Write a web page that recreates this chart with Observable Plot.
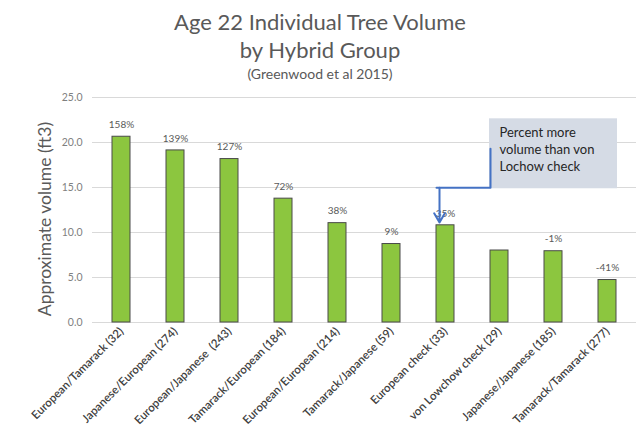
<!DOCTYPE html>
<html>
<head>
<meta charset="utf-8">
<script src="https://cdn.jsdelivr.net/npm/d3@7"></script>
<script src="https://cdn.jsdelivr.net/npm/@observablehq/plot@0.6"></script>
<style>
  body { margin: 0; background: #fff; font-family: Lato, "Open Sans", sans-serif; }
  #t1 { font-size: 22px; line-height: 28px; color: #595959; text-align: center; padding-top: 8px; }
  #t2 { font-size: 14px; line-height: 20px; color: #595959; text-align: center; }
  svg { display: block; }
</style>
</head>
<body>
<div id="t1">Age 22 Individual Tree Volume<br>by Hybrid Group</div>
<div id="t2">(Greenwood et al 2015)</div>
<div id="chart"></div>
<script>
const categories = [
  "European/Tamarack (32)",
  "Japanese/European (274)",
  "European/Japanese  (243)",
  "Tamarack/European (184)",
  "European/European (214)",
  "Tamarack/Japanese (59)",
  "European check (33)",
  "von Lowchow check (29)",
  "Japanese/Japanese (185)",
  "Tamarack/Tamarack (277)"
];
const volumes = [20.64, 19.12, 18.16, 13.76, 11.04, 8.72, 10.8, 8.0, 7.92, 4.72];
const percentLabels = ["158%", "139%", "127%", "72%", "38%", "9%", "35%", "", "-1%", "-41%"];
const yTicks = [0, 5, 10, 15, 20, 25];
const yLabel = "Approximate volume (ft3)";
const noteLines = "Percent more\nvolume than von\nLochow check";
const noteBox = {x: "Japanese/Japanese (185)", y1: 14.86, y2: 22.63};
const elbow = [
  {x: "von Lowchow check (29)", y: 19.3},
  {x: "von Lowchow check (29)", y: 14.97},
  {x: "European check (33)", y: 14.97}
];
const arrowSeg = {x: "European check (33)", y1: 14.97, y2: 11.1};

const data = categories.map((c, i) => ({cat: c, v: volumes[i], pct: percentLabels[i]}));

const chart = Plot.plot({
  width: 640,
  height: 357,
  marginTop: 13,
  marginBottom: 119,
  marginLeft: 92,
  marginRight: 4,
  style: {fontFamily: "Lato, 'Open Sans', sans-serif", background: "#fff"},
  x: {domain: categories, paddingInner: 0.67, paddingOuter: 0.335, label: null},
  y: {domain: [0, 25], label: null},
  marks: [
    Plot.ruleY(yTicks, {stroke: "#d9d9d9", strokeWidth: 1}),
    Plot.axisY({ticks: yTicks, tickSize: 0, tickPadding: 10, tickFormat: d => d.toFixed(1), fontSize: 10.5, color: "#7f7f7f", label: null}),
    Plot.axisX({tickSize: 0, tickPadding: 7, tickRotate: -45, fontSize: 11.5, fontWeight: 600, color: "#404040", label: null}),
    Plot.text([yLabel], {frameAnchor: "left", textAnchor: "middle", rotate: -90, dx: -47, dy: 9, fontSize: 17.5, fill: "#595959"}),
    Plot.barY(data, {x: "cat", y: "v", fill: "#8cc63f", stroke: "#4a4a4a", strokeWidth: 1}),
    Plot.text(data, {x: "cat", y: "v", text: "pct", dy: -12, fontSize: 10, fill: "#595959"}),
    Plot.barY([noteBox], {x: "x", y1: "y1", y2: "y2", fill: "#d5dbe5", insetLeft: -55, insetRight: -55}),
    Plot.text([noteLines], {x: () => noteBox.x, y: () => noteBox.y2, dx: -54, dy: 6, textAnchor: "start", lineAnchor: "top", lineHeight: 1.3, fontSize: 13, fill: "#262626"}),
    Plot.line(elbow, {x: "x", y: "y", dx: -9, stroke: "#4472c4", strokeWidth: 2}),
    Plot.arrow([arrowSeg], {x1: "x", x2: "x", y1: "y1", y2: "y2", dx: -6, stroke: "#4472c4", strokeWidth: 2, headLength: 8})
  ]
});
document.getElementById("chart").appendChild(chart);
</script>
</body>
</html>
